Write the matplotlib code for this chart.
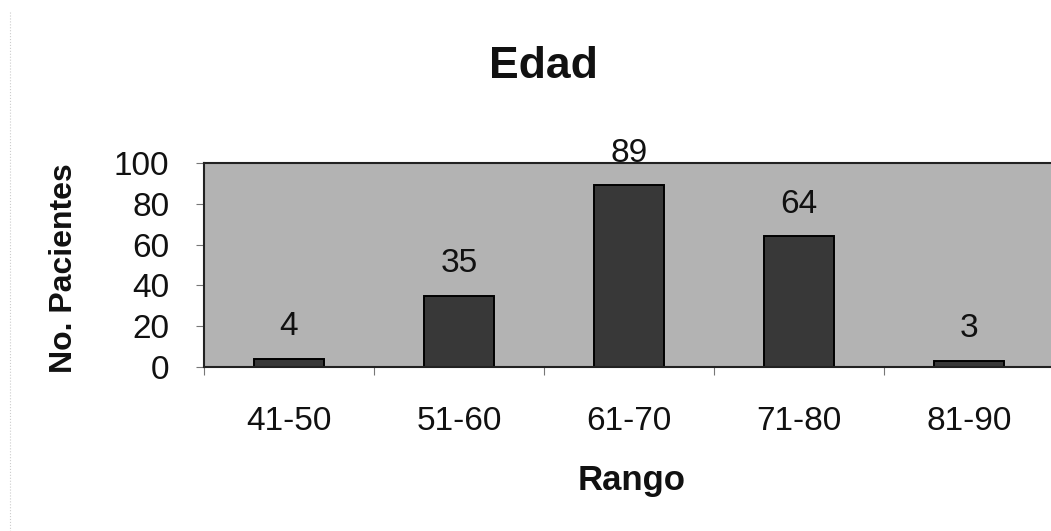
import matplotlib
matplotlib.use("Agg")
import matplotlib.pyplot as plt
from matplotlib.lines import Line2D

rangos = ["41-50", "51-60", "61-70", "71-80", "81-90"]
pacientes = [4, 35, 89, 64, 3]

plt.rcParams['font.family'] = ['Liberation Sans', 'DejaVu Sans']

fig = plt.figure(figsize=(10.51, 5.31), dpi=100)
fig.patch.set_facecolor("white")

# plot area (slightly past the right edge, like the scan)
ax = fig.add_axes([204 / 1051, 1 - 367 / 531, 850 / 1051, 204 / 531])
ax.set_facecolor("#b3b3b3")

x = list(range(len(rangos)))
bars = ax.bar(x, pacientes, width=0.41, color="#383838",
              edgecolor="black", linewidth=1.4)

for xi, v in zip(x, pacientes):
    ax.annotate(str(v), (xi, v), xytext=(0, 17), textcoords="offset points",
                ha="center", va="baseline", fontsize=24, color="#111111",
                annotation_clip=False)

ax.set_xlim(-0.5, len(rangos) - 0.5)
ax.set_ylim(0, 100)
ax.set_yticks([0, 20, 40, 60, 80, 100])
ax.tick_params(axis="y", labelsize=24, length=6, width=0.8, color="#777777",
               pad=19, labelcolor="#111111")

ax.set_xticks(x)
ax.set_xticklabels(rangos)
ax.set_xticks([i - 0.5 for i in range(len(rangos) + 1)], minor=True)
ax.tick_params(axis="x", which="major", length=0, labelsize=24, pad=28,
               labelcolor="#111111")
ax.tick_params(axis="x", which="minor", length=6, width=0.8, color="#777777")

for s in ax.spines.values():
    s.set_linewidth(1.5)
    s.set_color("#222222")

fig.text(543 / 1051, 1 - 78 / 531, "Edad", ha="center", va="baseline",
         fontsize=32, fontweight="bold", color="#111111")
fig.text(632 / 1051, 1 - 490 / 531, "Rango", ha="center", va="baseline",
         fontsize=25, fontweight="bold", color="#111111")
fig.text(79 / 1051, 1 - 268 / 531, "No. Pacientes", ha="right", va="center",
         rotation=90, fontsize=23, fontweight="bold", color="#111111")

# faint scan border on the left
fig.add_artist(Line2D([10 / 1051, 10 / 1051], [1 - 12 / 531, 0],
                      color="#cccccc", linewidth=0.8, linestyle=":"))

fig.savefig("out.png", dpi=100)
